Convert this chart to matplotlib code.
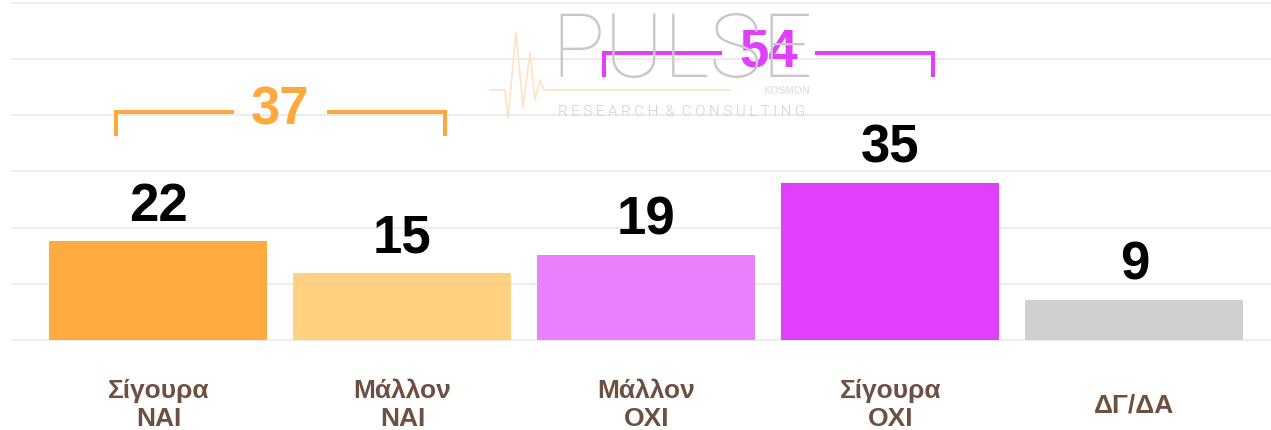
import numpy as np
import matplotlib.pyplot as plt

categories = ["Σίγουρα\nΝΑΙ", "Μάλλον\nΝΑΙ", "Μάλλον\nΟΧΙ", "Σίγουρα\nΟΧΙ", "ΔΓ/ΔΑ"]
values = [22, 15, 19, 35, 9]
bar_colors = ["#FFAB40", "#FFD180", "#EA80FC", "#E040FB", "#D0D0D0"]

# bracketed totals: (first bar, last bar, colour)
groups = [(0, 1, "#FFA83E"), (2, 3, "#E040FB")]

label_font = "Liberation Sans"

fig = plt.figure(figsize=(12.71, 4.30), dpi=100)
ax = fig.add_axes([12 / 1271, 90 / 430, 1259 / 1271, 337.5 / 430])

x = np.arange(len(values))
ax.bar(x, values, width=0.893, color=bar_colors, zorder=2)

ax.set_xlim(-0.6, 4.56)
ax.set_ylim(0, 75)
ax.set_yticks(np.arange(0, 75.1, 12.5))
ax.yaxis.grid(True, color="#ebebeb", linewidth=1.3)
for gl in ax.get_ygridlines():
    gl.set_clip_on(False)
ax.set_axisbelow(True)
ax.tick_params(left=False, bottom=False, labelleft=False, labelbottom=False)
for s in ax.spines.values():
    s.set_visible(False)

# value on top of each bar
for i, v in enumerate(values):
    ax.annotate(str(v), (i, v), xytext=(0, 14.4), textcoords="offset points",
                ha="center", va="baseline", fontsize=38, fontweight="bold",
                family=label_font, color="black")

# category names under the bars
for i, name in enumerate(categories):
    ax.annotate(name, (i, 0), xytext=(0, -47), textcoords="offset points",
                ha="center", va="center", fontsize=19, fontweight="bold",
                family=label_font, color="#6e5040", linespacing=1.2,
                annotation_clip=False)

# brackets with the group totals
for a, b, col in groups:
    total = sum(values[a:b + 1])
    level = max(values[a:b + 1]) + 28.75
    x0, x1 = a - 0.175, b + 0.175
    xc = (a + b) / 2
    ax.plot([x0, x0, xc - 0.2], [level - 4.9, level, level], color=col,
            lw=2.9, solid_joinstyle="miter", clip_on=False, zorder=4)
    ax.plot([xc + 0.2, x1, x1], [level, level, level - 4.9], color=col,
            lw=2.9, solid_joinstyle="miter", clip_on=False, zorder=4)
    ax.annotate(str(total), (xc, level), xytext=(0, -9.5), textcoords="offset points",
                ha="center", va="baseline", fontsize=38, fontweight="bold",
                family=label_font, color=col, zorder=5)

# faint company logo in the background
pulse_x = np.array([490, 505, 508, 516, 523, 530, 535, 540, 544, 730]) / 1271
pulse_y = 1 - np.array([90, 90, 118, 33, 107, 53, 100, 80, 90, 90]) / 430
fig.add_artist(plt.Line2D(pulse_x, pulse_y, color="#FDE3C3", lw=1.2, zorder=1))
fig.text(682 / 1271, 1 - 77 / 430, "PULSE", ha="center", va="baseline",
         fontsize=64, family="Roboto", fontweight=200, color="#c8c8c8", zorder=1)
fig.text(682 / 1271, 1 - 112 / 430, "R E S E A R C H  &  C O N S U L T I N G",
         ha="center", va="center", fontsize=10.8, family="Roboto", fontweight=300,
         color="#cfcfcf", zorder=1)
fig.text(810 / 1271, 1 - 91 / 430, "KOSMON", ha="right", va="center",
         fontsize=7.5, fontweight="bold", family=label_font, color="#e4e4e4", zorder=1)

fig.savefig("out.png", dpi=100, facecolor="white")
